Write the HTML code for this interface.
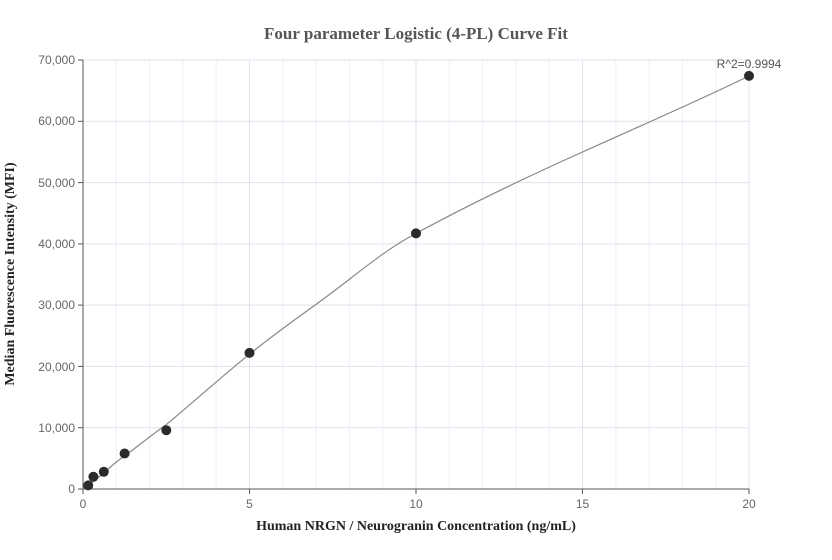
<!DOCTYPE html>
<html><head><meta charset="utf-8"><style>body{margin:0;background:#fff}svg{display:block}</style></head><body>
<svg width="832" height="560" xmlns="http://www.w3.org/2000/svg">
<rect width="832" height="560" fill="#fff"/>
<g stroke="#eef0f6" stroke-width="1">
<line x1="116.3" y1="60" x2="116.3" y2="489"/><line x1="149.6" y1="60" x2="149.6" y2="489"/><line x1="182.9" y1="60" x2="182.9" y2="489"/><line x1="216.2" y1="60" x2="216.2" y2="489"/>
<line x1="282.8" y1="60" x2="282.8" y2="489"/><line x1="316.1" y1="60" x2="316.1" y2="489"/><line x1="349.4" y1="60" x2="349.4" y2="489"/><line x1="382.7" y1="60" x2="382.7" y2="489"/>
<line x1="449.3" y1="60" x2="449.3" y2="489"/><line x1="482.6" y1="60" x2="482.6" y2="489"/><line x1="515.9" y1="60" x2="515.9" y2="489"/><line x1="549.2" y1="60" x2="549.2" y2="489"/>
<line x1="615.8" y1="60" x2="615.8" y2="489"/><line x1="649.1" y1="60" x2="649.1" y2="489"/><line x1="682.4" y1="60" x2="682.4" y2="489"/><line x1="715.7" y1="60" x2="715.7" y2="489"/>
</g>
<g stroke="#dfe3ef" stroke-width="1">
<line x1="249.5" y1="60" x2="249.5" y2="489"/><line x1="416" y1="60" x2="416" y2="489"/><line x1="582.5" y1="60" x2="582.5" y2="489"/><line x1="749" y1="60" x2="749" y2="489"/>
<line x1="83" y1="427.7" x2="749" y2="427.7"/><line x1="83" y1="366.4" x2="749" y2="366.4"/><line x1="83" y1="305.1" x2="749" y2="305.1"/><line x1="83" y1="243.9" x2="749" y2="243.9"/><line x1="83" y1="182.6" x2="749" y2="182.6"/><line x1="83" y1="121.3" x2="749" y2="121.3"/><line x1="83" y1="60" x2="749" y2="60"/>
</g>
<g stroke="#555" stroke-width="1">
<line x1="83" y1="60" x2="83" y2="489"/><line x1="83" y1="489" x2="749" y2="489"/>
<line x1="78" y1="489" x2="83" y2="489"/><line x1="78" y1="427.7" x2="83" y2="427.7"/><line x1="78" y1="366.4" x2="83" y2="366.4"/><line x1="78" y1="305.1" x2="83" y2="305.1"/><line x1="78" y1="243.9" x2="83" y2="243.9"/><line x1="78" y1="182.6" x2="83" y2="182.6"/><line x1="78" y1="121.3" x2="83" y2="121.3"/><line x1="78" y1="60" x2="83" y2="60"/>
<line x1="83" y1="489" x2="83" y2="494"/><line x1="249.5" y1="489" x2="249.5" y2="494"/><line x1="416" y1="489" x2="416" y2="494"/><line x1="582.5" y1="489" x2="582.5" y2="494"/><line x1="749" y1="489" x2="749" y2="494"/>
</g>
<g font-family="Liberation Sans, sans-serif" font-size="12" fill="#666" text-anchor="end">
<text x="75" y="493">0</text><text x="75" y="432">10,000</text><text x="75" y="371">20,000</text><text x="75" y="309">30,000</text><text x="75" y="248">40,000</text><text x="75" y="187">50,000</text><text x="75" y="125">60,000</text><text x="75" y="64">70,000</text>
</g>
<g font-family="Liberation Sans, sans-serif" font-size="12" fill="#666" text-anchor="middle">
<text x="83" y="508">0</text><text x="249.5" y="508">5</text><text x="416" y="508">10</text><text x="582.5" y="508">15</text><text x="749" y="508">20</text>
</g>
<path d="M86.3,487.2 L100,476 L116.3,462 C140,445 150,436 166.3,424.6 C190,405 220,378 249.5,354.2 C290,322 305,313 332.8,292 C360,271.5 385,250 416,233.4 C460,209.5 520,180 582.5,152 C640,126 700,100 749,76" fill="none" stroke="#888" stroke-width="1.2"/>
<g fill="#2b2b2b">
<circle cx="88.2" cy="485.4" r="5"/><circle cx="93.4" cy="476.8" r="5"/><circle cx="103.8" cy="471.8" r="5"/><circle cx="124.6" cy="453.5" r="5"/><circle cx="166.3" cy="430.2" r="5"/><circle cx="249.5" cy="352.9" r="5"/><circle cx="416" cy="233.4" r="5"/><circle cx="749" cy="75.9" r="5"/>
</g>
<text x="749" y="68" font-family="Liberation Sans, sans-serif" font-size="12" fill="#555" text-anchor="middle">R^2=0.9994</text>
<text x="416" y="39" font-family="Liberation Serif, serif" font-size="17" font-weight="bold" fill="#555" text-anchor="middle">Four parameter Logistic (4-PL) Curve Fit</text>
<text x="416" y="530" font-family="Liberation Serif, serif" font-size="14" font-weight="bold" fill="#222" text-anchor="middle">Human NRGN / Neurogranin Concentration (ng/mL)</text>
<text transform="translate(14,274) rotate(-90)" font-family="Liberation Serif, serif" font-size="14" font-weight="bold" fill="#222" text-anchor="middle">Median Fluorescence Intensity (MFI)</text>
</svg>
</body></html>
